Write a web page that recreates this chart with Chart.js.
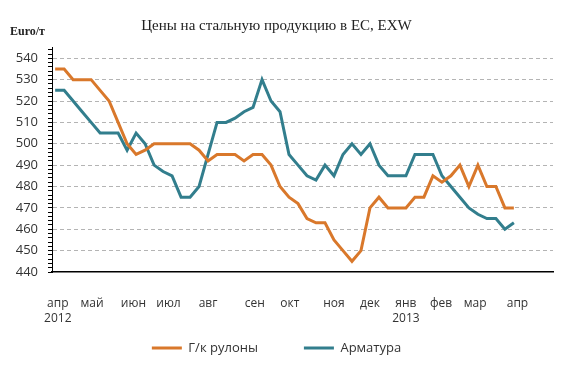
<!DOCTYPE html>
<html>
<head>
<meta charset="utf-8">
<script src="https://cdn.jsdelivr.net/npm/chart.js@4.4.1/dist/chart.umd.min.js"></script>
<style>
html,body{margin:0;padding:0;background:#fff;}
</style>
</head>
<body>
<canvas id="grafico" width="579" height="378"></canvas>
<script>
// недельные цены, апр 2012 - апр 2013
const rolony = [535,535,530,530,530,525,520,510,500,495,
  497,500,500,500,500,500,497,492,495,495,
  495,492,495,495,490,480,475,472,465,463,
  463,455,450,445,450,470,475,470,470,470,
  475,475,485,482,485,490,480,490,480,480,
  470,470];
const armatura = [525,525,520,515,510,505,505,505,497,505,
  500,490,487,485,475,475,480,495,510,510,
  512,515,517,530,520,515,495,490,485,483,
  490,485,495,500,495,500,490,485,485,485,
  495,495,495,485,480,475,470,467,465,465,
  460,463];
const mesyacy = [['апр','2012'],'май','июн','июл','авг','сен','окт','ноя','дек',['янв','2013'],'фев','мар','апр'];
const mesPos = [0.3,4.1,8.7,12.6,17,22.2,26.1,31,35,39,42.9,46.7,51.4];
const yMin = 440, yMax = 545, yStep = 2;

const ctx = document.getElementById("grafico").getContext('2d');

const euroLabel = {
  id: 'euroLabel',
  afterDraw(chart) {
    const c = chart.ctx;
    c.save();
    c.font = 'bold 12px "Liberation Serif"';
    c.fillStyle = '#222';
    c.textBaseline = 'middle';
    c.textAlign = 'left';
    c.fillText('Euro/т', 10, 32);
    c.restore();
  }
};

new Chart(ctx, {
  type: 'line',
  data: {
    datasets: [{
      label: 'Г/к рулоны',
      data: rolony.map((v, i) => ({x: i, y: v})),
      borderColor: '#D9782B',
      backgroundColor: '#D9782B',
      borderWidth: 3,
      pointRadius: 0,
      tension: 0
    }, {
      label: 'Арматура',
      data: armatura.map((v, i) => ({x: i, y: v})),
      borderColor: '#327E8D',
      backgroundColor: '#327E8D',
      borderWidth: 3,
      pointRadius: 0,
      tension: 0
    }]
  },
  options: {
    responsive: false,
    animation: false,
    layout: { padding: { top: 0, left: 0, right: 26, bottom: 13.5 } },
    plugins: {
      title: {
        display: true,
        text: 'Цены на стальную продукцию в ЕС, EXW',
        font: { family: '"Liberation Serif"', size: 15, weight: 'normal' },
        color: '#222',
        padding: { top: 17, bottom: 12.6 }
      },
      legend: {
        position: 'bottom',
        labels: {
          usePointStyle: true,
          pointStyle: 'line',
          pointStyleWidth: 30,
          padding: 46,
          color: '#333',
          font: { family: '"Open Sans"', size: 13 }
        }
      },
      tooltip: { enabled: false }
    },
    scales: {
      x: {
        type: 'linear',
        min: -0.35,
        max: 55.35,
        grid: { display: false, drawTicks: false },
        border: { color: '#000', width: 1.5 },
        afterBuildTicks: s => { s.ticks = mesPos.map(v => ({value: v})); },
        afterFit: s => { s.height = 23.5; },
        ticks: {
          autoSkip: false,
          maxRotation: 0,
          mirror: true,      // без обрезки подписей по высоте оси
          padding: -39.5,
          color: '#333',
          font: { family: '"Open Sans"', size: 12, lineHeight: 1.25 },
          callback: (v, i) => mesyacy[i]
        }
      },
      y: {
        min: yMin,
        max: yMax,
        afterBuildTicks: s => {
          const t = [];
          for (let v = yMin; v < yMax; v += yStep) t.push({value: v});
          s.ticks = t;
        },
        afterFit: s => { s.width = 52; },
        grid: {
          color: c => (c.tick && c.tick.value % 10 === 0 && c.tick.value !== yMin) ? '#b4b4b4' : 'rgba(0,0,0,0)',
          tickColor: '#000',
          tickLength: 4,
          lineWidth: 1
        },
        border: { color: '#000', width: 1, dash: [4, 3] },
        ticks: {
          autoSkip: false,
          padding: 10,
          color: '#333',
          font: { family: '"Open Sans"', size: 13 },
          callback: v => (v % 10 === 0 ? v : '')
        }
      }
    }
  },
  plugins: [euroLabel]
});
</script>
</body>
</html>
